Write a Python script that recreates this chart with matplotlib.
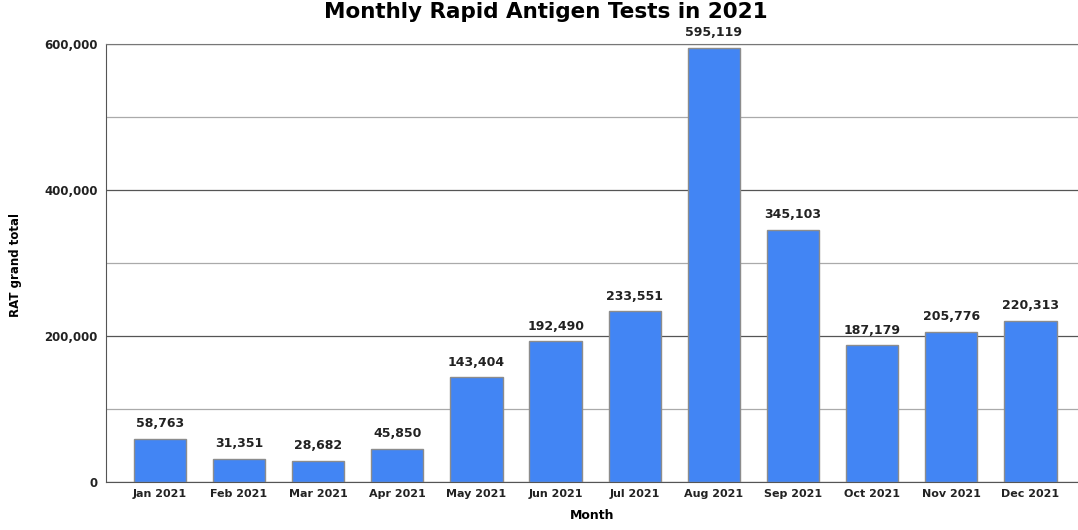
import matplotlib.pyplot as plt
from matplotlib.ticker import FuncFormatter, MultipleLocator

months = ['Jan 2021', 'Feb 2021', 'Mar 2021', 'Apr 2021', 'May 2021', 'Jun 2021',
          'Jul 2021', 'Aug 2021', 'Sep 2021', 'Oct 2021', 'Nov 2021', 'Dec 2021']
rat_totals = [58763, 31351, 28682, 45850, 143404, 192490,
              233551, 595119, 345103, 187179, 205776, 220313]

fig = plt.figure(figsize=(10.78, 5.3), dpi=100)
ax = fig.add_axes([0.0983, 0.0906, 0.9017, 0.8264])

x = range(len(months))
bars = ax.bar(x, rat_totals, width=0.66, color='#4285F4', edgecolor='#8c8c8c',
              linewidth=1.0, zorder=3)

for xi, v in zip(x, rat_totals):
    ax.text(xi, v + 12000, f'{v:,}', ha='center', va='bottom',
            fontsize=9, fontweight='bold', color='#222222')

ax.set_xlim(-0.68, 11.6)
ax.set_ylim(0, 600000)
ax.yaxis.set_major_locator(MultipleLocator(200000))
ax.yaxis.set_minor_locator(MultipleLocator(100000))
ax.yaxis.set_major_formatter(FuncFormatter(lambda v, p: f'{int(v):,}'))
ax.grid(True, which='major', axis='y', color='#555555', linewidth=0.9, zorder=0)
ax.grid(True, which='minor', axis='y', color='#aaaaaa', linewidth=0.9, zorder=0)

ax.set_xticks(list(x))
ax.set_xticklabels(months)
ax.tick_params(axis='x', length=0, pad=5, labelsize=8)
ax.tick_params(axis='y', which='both', length=0, pad=6, labelsize=8.5)
for lbl in ax.get_xticklabels() + ax.get_yticklabels():
    lbl.set_fontweight('bold')
    lbl.set_color('#222222')

ax.spines['right'].set_visible(False)
ax.spines['top'].set_color('#777777')
ax.spines['left'].set_color('#555555')
ax.spines['bottom'].set_color('#555555')

ax.set_xlabel('Month', fontsize=9, fontweight='bold', labelpad=7)
fig.text(0.014, 0.5, 'RAT grand total', rotation=90, ha='center', va='center',
         fontsize=8.5, fontweight='bold', family='Liberation Sans Narrow')
fig.text(0.506, 0.977, 'Monthly Rapid Antigen Tests in 2021', ha='center', va='center',
         fontsize=15.5, fontweight='bold')

plt.savefig('out.png', dpi=100)
plt.close()
